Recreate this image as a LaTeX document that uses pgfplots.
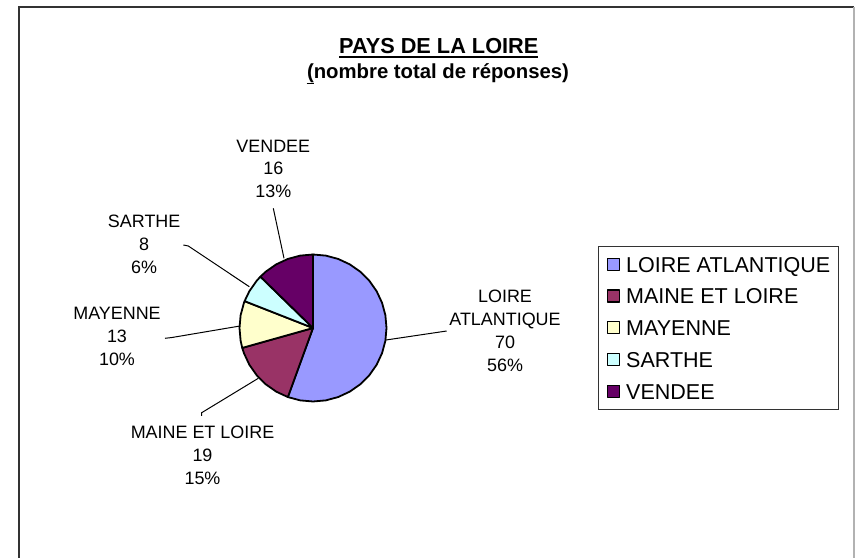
\documentclass[border=0pt]{standalone}
\usepackage{pgfplots}
\pgfplotsset{compat=1.18}
\usepackage{fontspec}
\setmainfont{Liberation Sans}
\definecolor{cLA}{HTML}{9999FF}
\definecolor{cML}{HTML}{993366}
\definecolor{cMY}{HTML}{FFFFCC}
\definecolor{cSA}{HTML}{CCFFFF}
\definecolor{cVE}{HTML}{660066}
\begin{document}
\begin{tikzpicture}
\begin{axis}[
  scale only axis, width=855bp, height=558bp,
  xmin=-313, xmax=542, ymin=-230, ymax=328,
  hide axis, clip=false,
  legend style={at={(0.6994,0.5591)}, anchor=north west, draw=black!80, line width=1bp, fill=white,
     font=\fontsize{21.6}{25}\selectfont, inner xsep=8.5bp, inner ysep=7bp,
     row sep=10.25bp, column sep=6bp,
     nodes={inner sep=0bp, text height=18.5bp, text depth=3bp}},
  legend cell align=left,
  legend image code/.code={\draw[#1, line width=1.2bp] (0bp,-6bp) rectangle (12bp,6bp);},
]
% counts: LA 70, ML 19, MY 13, SA 8, VE 16 (total 126); angles clockwise from 12 o'clock
\addplot[fill=cLA, draw=black, line width=1.8bp, line join=round, data cs=polar] coordinates {
 (0,0) (90,73.5) (80,73.5) (70,73.5) (60,73.5) (50,73.5) (40,73.5) (30,73.5) (20,73.5) (10,73.5) (0,73.5)
 (-10,73.5) (-20,73.5) (-30,73.5) (-40,73.5) (-50,73.5) (-60,73.5) (-70,73.5) (-80,73.5) (-90,73.5) (-100,73.5) (-110,73.5) (0,0)} -- cycle;
\addlegendentry{LOIRE ATLANTIQUE}
\addplot[fill=cML, draw=black, line width=1.8bp, line join=round, data cs=polar] coordinates {
 (0,0) (-110,73.5) (-120,73.5) (-130,73.5) (-140,73.5) (-150,73.5) (-160,73.5) (-164.29,73.5) (0,0)} -- cycle;
\addlegendentry{MAINE ET LOIRE}
\addplot[fill=cMY, draw=black, line width=1.8bp, line join=round, data cs=polar] coordinates {
 (0,0) (-164.29,73.5) (-170,73.5) (-180,73.5) (-190,73.5) (-200,73.5) (-201.43,73.5) (0,0)} -- cycle;
\addlegendentry{MAYENNE}
\addplot[fill=cSA, draw=black, line width=1.8bp, line join=round, data cs=polar] coordinates {
 (0,0) (-201.43,73.5) (-210,73.5) (-220,73.5) (-224.29,73.5) (0,0)} -- cycle;
\addlegendentry{SARTHE}
\addplot[fill=cVE, draw=black, line width=1.8bp, line join=round, data cs=polar] coordinates {
 (0,0) (-224.29,73.5) (-230,73.5) (-240,73.5) (-250,73.5) (-260,73.5) (-270,73.5) (0,0)} -- cycle;
\addlegendentry{VENDEE}

% leader lines
\draw[line width=1bp] (axis cs:-39.7,119.7) -- (axis cs:-29,69.7);
\draw[line width=1bp] (axis cs:-129.7,83) -- (axis cs:-124.7,82) -- (axis cs:-63.7,41.3);
\draw[line width=1bp] (axis cs:-148,-10.3) -- (axis cs:-141,-9.5) -- (axis cs:-73,2);
\draw[line width=1bp] (axis cs:-111.3,-88) -- (axis cs:-111.3,-84.7) -- (axis cs:-54.7,-50.3);
\draw[line width=1bp] (axis cs:133.7,-3) -- (axis cs:73,-12);

% data labels
\tikzset{lbl/.style={align=center, inner sep=0pt, font=\fontsize{18}{23}\selectfont}}
\node[lbl] at (axis cs:-39.7,159.1) {VENDEE\\16\\13\%};
\node[lbl] at (axis cs:-168.8,83.3) {SARTHE\\8\\6\%};
\node[lbl] at (axis cs:-196,-8.5) {MAYENNE\\13\\10\%};
\node[lbl] at (axis cs:-110.5,-127.3) {MAINE ET LOIRE\\19\\15\%};
\node[lbl] at (axis cs:192,-3) {LOIRE\\ATLANTIQUE\\70\\56\%};

% titles
\node[anchor=base, inner sep=0pt, font=\fontsize{21.8}{25}\selectfont\bfseries] at (axis cs:125.8,274) {PAYS DE LA LOIRE};
\draw[line width=1.8bp] (axis cs:26.3,270.8) -- (axis cs:225.3,270.8);
\node[anchor=base, inner sep=0pt, font=\fontsize{20.4}{24}\selectfont\bfseries] at (axis cs:125,249) {(nombre total de réponses)};
\draw[line width=1.5bp] (axis cs:-6.3,244.5) -- (axis cs:1,244.5);

% outer frame
\draw[line width=2bp, black!80] (axis cs:-294,-232) -- (axis cs:-294,321) -- (axis cs:541,321);
\draw[line width=1.5bp, black!30] (axis cs:541,321) -- (axis cs:541,-232);

\coordinate (BB1) at (axis cs:-313,-230);
\coordinate (BB2) at (axis cs:542,328);
\end{axis}
\pgfresetboundingbox
\path (BB1) rectangle (BB2);
\end{tikzpicture}
\end{document}
